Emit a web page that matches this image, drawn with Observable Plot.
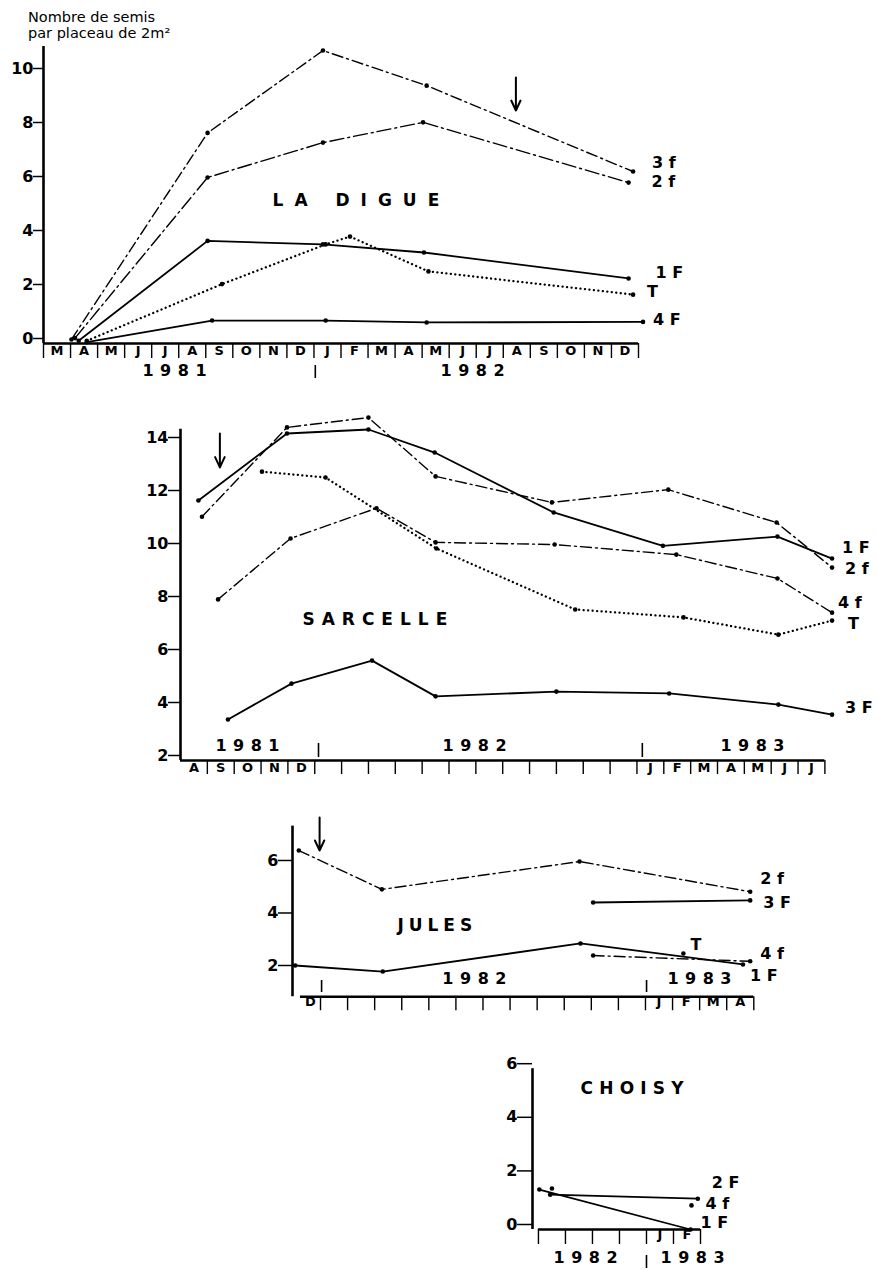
<!DOCTYPE html>
<html><head><meta charset="utf-8">
<script src="https://cdn.jsdelivr.net/npm/d3@7"></script>
<script src="https://cdn.jsdelivr.net/npm/@observablehq/plot@0.6"></script>
<style>
body{margin:0;background:#fff;}
#wrap{position:relative;width:878px;height:1270px;font-family:"DejaVu Sans",sans-serif;color:#000;}
#wrap svg{position:absolute;left:0;overflow:visible;background:transparent;}
.ytitle{position:absolute;left:28px;top:9px;font-size:14.5px;line-height:16px;}
</style></head><body>
<div id="wrap"><div class="ytitle">Nombre de semis<br>par placeau de 2m²</div></div>
<script>
// ---------- DATA (dates of sampling, seedlings per 2 m² plot) ----------
const laDigue3f = [["1981-04-02",0.15],["1981-09-03",7.8],["1982-01-11",10.85],["1982-05-06",9.55],["1982-12-25",6.37]];
const laDigue2f = [["1981-04-06",0.2],["1981-09-03",6.15],["1982-01-11",7.44],["1982-05-02",8.19],["1982-12-20",5.96]];
const laDigue1F = [["1981-04-10",0.1],["1981-09-03",3.8],["1982-01-11",3.67],["1982-05-03",3.37],["1982-12-20",2.41]];
const laDigueT  = [["1981-04-19",0.1],["1981-09-19",2.2],["1982-01-14",3.67],["1982-02-11",3.96],["1982-05-08",2.67],["1982-12-25",1.81]];
const laDigue4F = [["1981-04-19",0.05],["1981-09-08",0.85],["1982-01-14",0.85],["1982-05-06",0.78],["1983-01-06",0.8]];

const sarcelle1F = [["1981-08-21",11.81],["1981-11-30",14.34],["1982-03-01",14.49],["1982-05-15",13.62],["1982-09-28",11.36],["1983-01-30",10.1],["1983-06-08",10.45],["1983-08-09",9.62]];
const sarcelle2f = [["1981-08-25",11.2],["1981-11-30",14.57],["1982-03-01",14.94],["1982-05-16",12.72],["1982-09-26",11.74],["1983-02-06",12.22],["1983-06-07",10.98],["1983-08-09",9.28]];
const sarcelle4f = [["1981-09-13",8.08],["1981-12-04",10.38],["1982-03-10",11.52],["1982-05-16",10.23],["1982-09-29",10.15],["1983-02-15",9.77],["1983-06-08",8.87],["1983-08-09",7.58]];
const sarcelleT  = [["1981-11-02",12.9],["1982-01-13",12.68],["1982-05-17",10.0],["1982-10-22",7.7],["1983-02-23",7.4],["1983-06-09",6.75],["1983-08-09",7.28]];
const sarcelle3F = [["1981-09-24",3.55],["1981-12-05",4.9],["1982-03-05",5.77],["1982-05-16",4.42],["1982-10-01",4.6],["1983-02-07",4.53],["1983-06-09",4.11],["1983-08-09",3.73]];

const jules2f = [["1981-12-07",6.57],["1982-03-09",5.09],["1982-10-18",6.15],["1983-04-27",5.0]];
const jules3F = [["1982-11-03",4.59],["1983-04-27",4.67]];
const jules1F = [["1981-12-03",2.19],["1982-03-10",1.96],["1982-10-19",3.03],["1983-04-19",2.23]];
const jules4f = [["1982-11-03",2.57],["1983-04-27",2.35]];
const julesT  = [["1983-02-13",2.65]];

const choisy1F = [["1982-09-02",1.49],["1983-02-20",0.0]];
const choisy2F = [["1982-09-14",1.3],["1983-02-28",1.15]];
const choisy4f = [["1982-09-16",1.53],["1983-02-21",0.9]];

// arrows: [date, from value, to value]
const laDigueArrow  = ["1982-08-15", 9.85, 8.63];
const sarcelleArrow = ["1981-09-15", 14.34, 13.06];
const julesArrow    = ["1981-12-30", 7.83, 6.57];

// tick labels
const laDigueMonths  = ["M","A","M","J","J","A","S","O","N","D","J","F","M","A","M","J","J","A","S","O","N","D"];
const sarcelleMonths = ["A","S","O","N","D","","","","","","","","","","","","","J","F","M","A","M","J","J"];
const julesMonths    = ["D","","","","","","","","","","","","","J","F","M","A"];
const choisyMonths   = ["","","","","J","F"];
const laDigueYears  = ["1981","1982"];
const sarcelleYears = ["1981","1982","1983"];
const julesYears    = ["1982","1983"];
const choisyYears   = ["1982","1983"];
const laDigueYTicks  = [0,2,4,6,8,10];
const sarcelleYTicks = [2,4,6,8,10,12,14];
const julesYTicks    = [2,4,6];
const choisyYTicks   = [0,2,4,6];

// ---------- helpers ----------
const mi = s => { const [y, m, d] = s.split("-").map(Number); return (y - 1981) * 12 + (m - 1) + (d - 1) / 30; };
const lineStyles = {
  solid:  {strokeWidth: 1.8},
  dashdot:{strokeWidth: 1.4, strokeDasharray: "11 4 2 4"},
  dashdotL:{strokeWidth: 1.4, strokeDasharray: "14 4 2 4"},
  dotted: {strokeWidth: 2.3, strokeDasharray: "0.1 4.4", strokeLinecap: "round"},
  none: null
};
const spacing = {"1981": 6.5, "1982": 6.5, "1983": 6.5, "LA DIGUE": 11, "SARCELLE": 7, "JULES": 5, "CHOISY": 6.2};
const bold = {fontWeight: "bold", fontSize: 16};

function drawPanel(c) {
  const [x0, x1] = c.xPx, [yb, yt] = c.yPx;
  const k = (yb - yt) / (c.yDom[1] - c.yDom[0]);
  const vAt = py => c.yDom[0] + (yb - py) / k;
  const marks = [];
  marks.push(Plot.ruleX([c.xDom[0]], {y1: c.yDom[0], y2: c.yDom[1], strokeWidth: 2.6}));
  marks.push(Plot.axisY(c.yTicks, {anchor: "left", tickSize: c.tickSizeY, tickPadding: 0, dy: -5, fontSize: 16, fontWeight: "bold", strokeWidth: 1.5, label: null, tickFormat: d => String(d)}));
  marks.push(Plot.ruleY([c.yDom[0]], {x1: c.baseFrom, x2: c.baseTo, strokeWidth: 2.4}));
  marks.push(Plot.ruleX(d3.range(c.tickFrom, c.tickTo + 1), {y1: c.yDom[0], y2: c.yDom[0] - c.tickLen / k, strokeWidth: 1.4}));
  const ml = c.months.map((t, i) => {
    const m = c.monthStart + i, lo = Math.max(m, c.baseFrom);
    return {x: (lo + m + 1) / 2, t};
  }).filter(d => d.t);
  marks.push(Plot.text(ml, {x: "x", text: "t", frameAnchor: "bottom", dy: c.monthDy, fontSize: 13, fontWeight: "bold"}));
  marks.push(Plot.text(c.years.map((t, i) => ({t, x: c.yearX[i]})), {x: "x", text: "t", frameAnchor: "bottom", dy: c.yearDy, textAnchor: "start", ...bold}));
  marks.push(Plot.ruleX(c.seps, {y1: vAt(c.sepPy[0]), y2: vAt(c.sepPy[1]), strokeWidth: 1.6}));
  marks.push(Plot.text([c.title], {x: c.titlePos[0], y: c.titlePos[1], textAnchor: "start", fontSize: 17, fontWeight: "bold"}));
  for (const s of c.series) {
    const X = d => mi(d[0]), Y = d => d[1];
    if (lineStyles[s.style]) marks.push(Plot.line(s.data, {x: X, y: Y, stroke: "black", ...lineStyles[s.style]}));
    marks.push(Plot.dot(s.data, {x: X, y: Y, r: 2.3, fill: "black"}));
    marks.push(Plot.text([s.data[s.data.length - 1]], {x: X, y: Y, text: () => s.label, dx: s.dx, dy: s.dy, textAnchor: "start", ...bold}));
  }
  if (c.arrow) marks.push(Plot.arrow([c.arrow], {x1: d => mi(d[0]), x2: d => mi(d[0]), y1: d => d[1], y2: d => d[2], strokeWidth: 2, headLength: 9, headAngle: 50}));
  const svg = Plot.plot({
    width: 878, height: c.height,
    marginLeft: x0, marginRight: 878 - x1, marginTop: yt - c.top, marginBottom: c.top + c.height - yb,
    x: {domain: c.xDom, axis: null}, y: {domain: c.yDom, axis: null},
    style: {fontFamily: "DejaVu Sans", background: "transparent", overflow: "visible", color: "black"},
    marks
  });
  svg.style.top = c.top + "px";
  d3.select(svg).selectAll("text").each(function () {
    const t = this.textContent;
    if (spacing[t] !== undefined) this.style.letterSpacing = spacing[t] + "px";
  });
  document.getElementById("wrap").appendChild(svg);
}

drawPanel({
  title: "LA DIGUE", titlePos: [10.47, 5.3], top: 0, height: 380,
  xDom: [2, 24], xPx: [43, 638], yDom: [0, 11], yPx: [343, 46], yTicks: laDigueYTicks, tickSizeY: 10,
  baseFrom: 2, baseTo: 24, tickFrom: 2, tickTo: 24, tickLen: 15,
  months: laDigueMonths, monthStart: 2, monthDy: 11,
  years: laDigueYears, yearX: [5.66, 16.68], yearDy: 32, seps: [12.05], sepPy: [365, 378],
  arrow: laDigueArrow,
  series: [
    {data: laDigue3f, label: "3 f", style: "dashdot", dx: 19, dy: -9},
    {data: laDigue2f, label: "2 f", style: "dashdotL", dx: 23, dy: -1},
    {data: laDigue1F, label: "1 F", style: "solid", dx: 27, dy: -6},
    {data: laDigueT,  label: "T",   style: "dotted", dx: 14, dy: -3},
    {data: laDigue4F, label: "4 F", style: "solid", dx: 10, dy: -2}
  ]
});
drawPanel({
  title: "SARCELLE", titlePos: [11.54, 7.32], top: 400, height: 400,
  xDom: [7, 31], xPx: [180, 824.4], yDom: [2, 14.5], yPx: [760, 428.75], yTicks: sarcelleYTicks, tickSizeY: 12,
  baseFrom: 7, baseTo: 31, tickFrom: 8, tickTo: 31, tickLen: 14,
  months: sarcelleMonths, monthStart: 7, monthDy: 11,
  years: sarcelleYears, yearX: [8.30, 16.76, 27.11], yearDy: -10, seps: [12.14, 24.2], sepPy: [743, 757],
  arrow: sarcelleArrow,
  series: [
    {data: sarcelle1F, label: "1 F", style: "solid", dx: 10, dy: -11},
    {data: sarcelle2f, label: "2 f", style: "dashdot", dx: 13, dy: 1},
    {data: sarcelle4f, label: "4 f", style: "dashdot", dx: 6, dy: -10},
    {data: sarcelleT,  label: "T",   style: "dotted", dx: 16, dy: 3},
    {data: sarcelle3F, label: "3 F", style: "solid", dx: 13, dy: -7}
  ]
});
drawPanel({
  title: "JULES", titlePos: [14.84, 3.71], top: 800, height: 220,
  xDom: [10.966, 28], xPx: [292, 753.3], yDom: [1, 7.5], yPx: [996.25, 825.6], yTicks: julesYTicks, tickSizeY: 14,
  baseFrom: 11.26, baseTo: 28, tickFrom: 12, tickTo: 28, tickLen: 14,
  months: julesMonths, monthStart: 11, monthDy: 9,
  years: julesYears, yearX: [16.5, 24.81], yearDy: -13, seps: [12.04, 24.04], sepPy: [980, 992],
  arrow: julesArrow,
  series: [
    {data: jules2f, label: "2 f", style: "dashdot", dx: 10, dy: -13},
    {data: jules3F, label: "3 F", style: "solid", dx: 13, dy: 2},
    {data: jules4f, label: "4 f", style: "dashdot", dx: 10, dy: -7},
    {data: jules1F, label: "1 F", style: "solid", dx: 7, dy: 11},
    {data: julesT,  label: "T",   style: "none", dx: 7, dy: -9}
  ]
});
drawPanel({
  title: "CHOISY", titlePos: [21.56, 5.26], top: 1040, height: 230,
  xDom: [19.78, 26], xPx: [532, 700], yDom: [0, 6], yPx: [1229, 1068.2], yTicks: choisyYTicks, tickSizeY: 15,
  baseFrom: 20, baseTo: 26, tickFrom: 20, tickTo: 26, tickLen: 15,
  months: choisyMonths, monthStart: 20, monthDy: 9,
  years: choisyYears, yearX: [20.56, 24.52], yearDy: 33, seps: [24], sepPy: [1255, 1268],
  arrow: null,
  series: [
    {data: choisy2F, label: "2 F", style: "solid", dx: 14, dy: -16},
    {data: choisy4f, label: "4 f", style: "none", dx: 14, dy: -2},
    {data: choisy1F, label: "1 F", style: "solid", dx: 10, dy: -7}
  ]
});
</script>
</body></html>
